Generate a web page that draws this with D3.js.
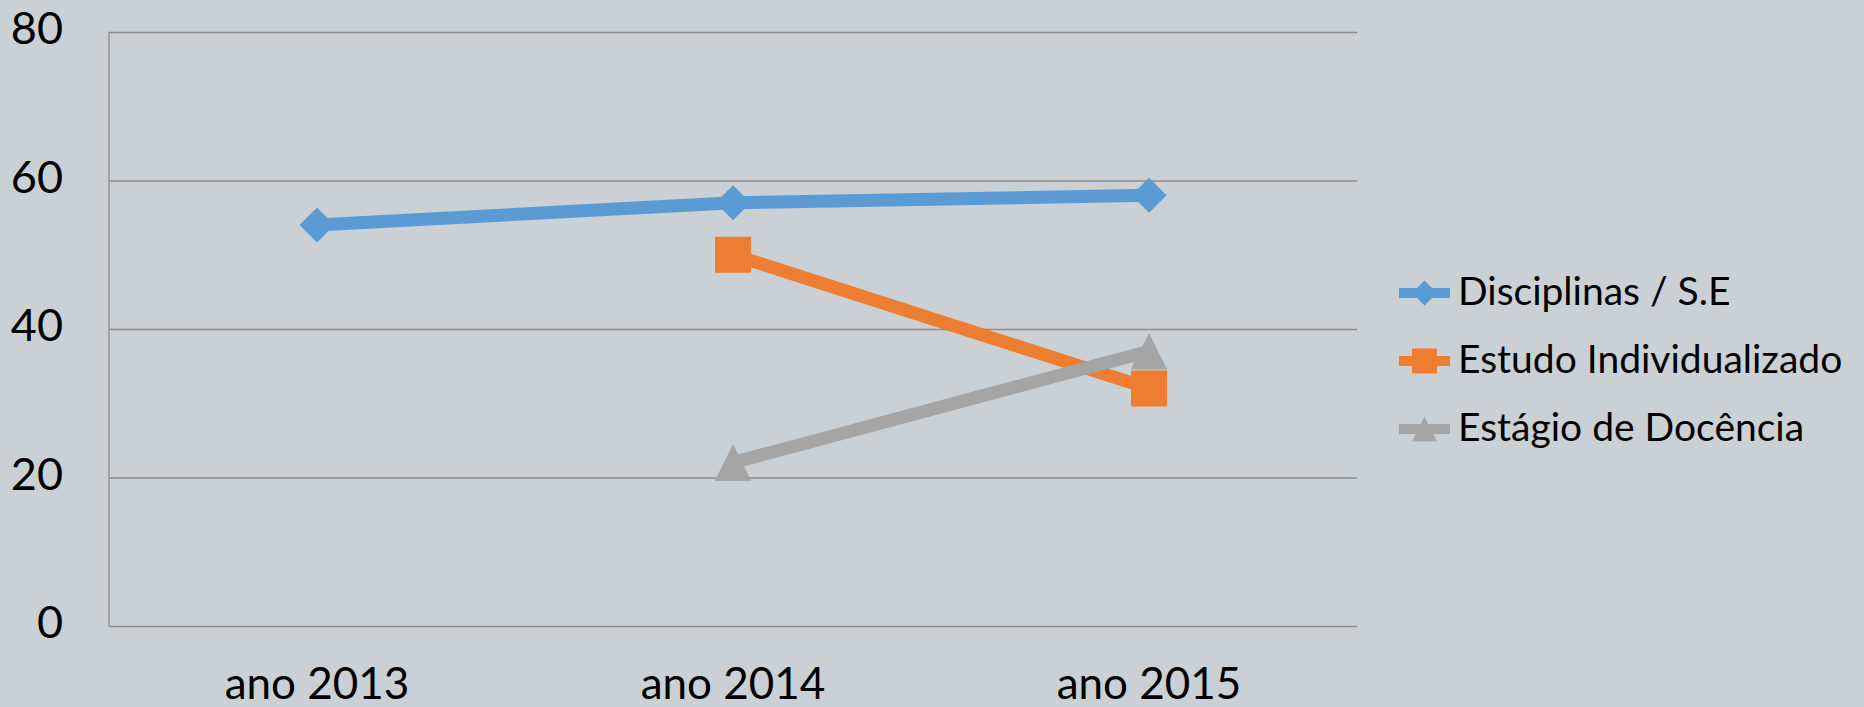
<!DOCTYPE html>
<html>
<head>
<meta charset="utf-8">
<script src="https://cdn.jsdelivr.net/npm/d3@7"></script>
<style>
  html, body { margin: 0; padding: 0; background: #cbd0d4; }
  #chart { width: 1864px; height: 707px; }
</style>
</head>
<body>
<div id="chart"></div>
<script>
const years = ["ano 2013", "ano 2014", "ano 2015"];
const disciplinas = [54, 57, 58];
const estudo = [null, 50, 32];
const estagio = [null, 22, 37];
const yTicks = [0, 20, 40, 60, 80];

const series = [
  { name: "Disciplinas / S.E", values: disciplinas, color: "#5b9bd5", symbol: "diamond" },
  { name: "Estudo Individualizado", values: estudo, color: "#ed7d31", symbol: "square" },
  { name: "Estágio de Docência", values: estagio, color: "#a5a5a5", symbol: "triangle" }
];

const W = 1864, H = 707;
const margin = { top: 32, right: 507, bottom: 81, left: 109 };
const width = W - margin.left - margin.right;
const height = H - margin.top - margin.bottom;
const font = "Lato, 'Open Sans', sans-serif";

const svg = d3.select("#chart").append("svg")
  .attr("width", W).attr("height", H);

svg.append("rect").attr("width", W).attr("height", H).attr("fill", "#cbd0d4");

const g = svg.append("g").attr("transform", `translate(${margin.left},${margin.top})`);

const x = d3.scaleBand().domain(years).range([0, width]);
const y = d3.scaleLinear().domain([0, 80]).range([height, 0]);

// gridlines
g.append("g")
  .call(d3.axisLeft(y).tickValues(yTicks).tickSize(-width).tickFormat(""))
  .call(a => a.select(".domain").remove())
  .call(a => a.selectAll("line").attr("stroke", "#8c8c8c").attr("stroke-width", 1.3));

// left axis line
g.append("line").attr("x1", 0).attr("x2", 0).attr("y1", 0).attr("y2", height)
  .attr("stroke", "#8c8c8c").attr("stroke-width", 1.3);

// y labels
g.append("g")
  .call(d3.axisLeft(y).tickValues(yTicks).tickSize(0).tickPadding(46))
  .call(a => a.select(".domain").remove())
  .call(a => a.selectAll("text")
    .attr("fill", "#000").attr("font-size", 45).attr("font-family", font)
    .attr("dy", "0.26em"));

// x labels
g.append("g")
  .attr("transform", `translate(0,${height})`)
  .call(d3.axisBottom(x).tickSize(0).tickPadding(42))
  .call(a => a.select(".domain").remove())
  .call(a => a.selectAll("text")
    .attr("fill", "#000").attr("font-size", 44).attr("font-family", font));

const symbolPath = (type, size) => {
  if (type === "diamond") return `M0,${-size}L${size},0L0,${size}L${-size},0Z`;
  if (type === "square") return `M${-size},${-size}H${size}V${size}H${-size}Z`;
  return `M0,${-size}L${size},${size}H${-size}Z`;
};
const markerSize = { diamond: 17.5, square: 18, triangle: 18.3 };

const line = d3.line()
  .defined(d => d.v != null)
  .x(d => x(d.k) + x.bandwidth() / 2)
  .y(d => y(d.v));

series.forEach(s => {
  const pts = years.map((k, i) => ({ k, v: s.values[i] }));
  g.append("path")
    .datum(pts)
    .attr("d", line)
    .attr("fill", "none")
    .attr("stroke", s.color)
    .attr("stroke-width", 13);
  g.append("g").selectAll("path")
    .data(pts.filter(d => d.v != null))
    .join("path")
    .attr("transform", d => `translate(${x(d.k) + x.bandwidth() / 2},${y(d.v)})`)
    .attr("d", symbolPath(s.symbol, markerSize[s.symbol]))
    .attr("fill", s.color);
});

// legend
const legend = svg.append("g").attr("transform", "translate(1399,293)");
series.forEach((s, i) => {
  const item = legend.append("g").attr("transform", `translate(0,${i * 68})`);
  item.append("line").attr("x1", 0).attr("x2", 51)
    .attr("stroke", s.color).attr("stroke-width", 10);
  item.append("path").attr("transform", "translate(25.5,0)")
    .attr("d", symbolPath(s.symbol, 12.5)).attr("fill", s.color);
  item.append("text").attr("x", 59).attr("y", 0).attr("dy", "0.3em")
    .attr("font-size", 39).attr("font-family", font).attr("fill", "#000")
    .text(s.name);
});
</script>
</body>
</html>
